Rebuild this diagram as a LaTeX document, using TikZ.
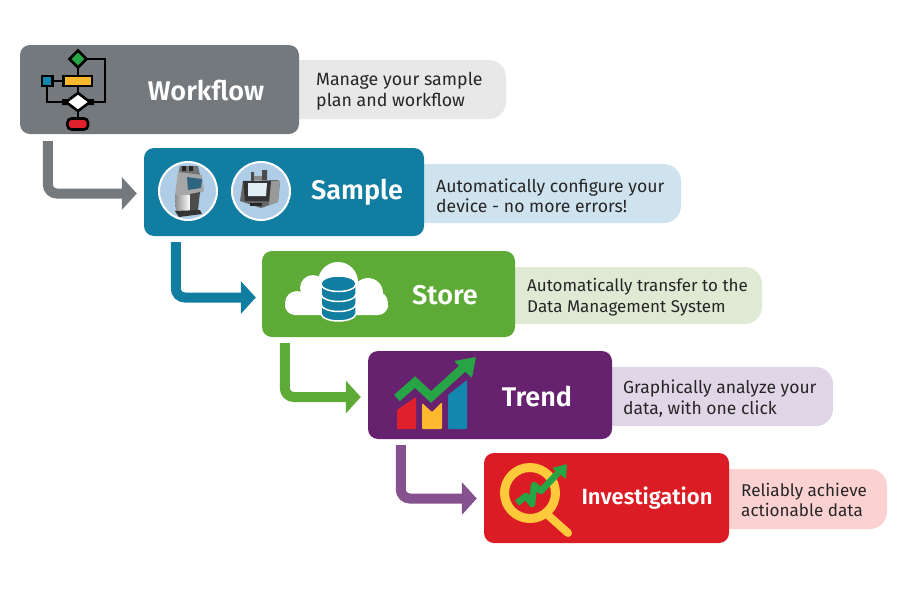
\documentclass[tikz,border=0pt]{standalone}
\usepackage{fontspec}
\setmainfont[BoldFont={Fira Sans SemiBold}]{Fira Sans}
\definecolor{Slate}{HTML}{73797D}
\definecolor{Ocean}{HTML}{117DA0}
\definecolor{Leaf}{HTML}{5EAA36}
\definecolor{Plum}{HTML}{67226F}
\definecolor{Crimson}{HTML}{DC1C24}
\definecolor{PlumArrow}{HTML}{85528F}
\definecolor{SlateLight}{HTML}{E8E8E8}
\definecolor{OceanLight}{HTML}{CFE3EF}
\definecolor{LeafLight}{HTML}{DEEAD3}
\definecolor{PlumLight}{HTML}{E1D6E7}
\definecolor{CrimsonLight}{HTML}{FBD2D1}
\definecolor{IconGreen}{HTML}{27A546}
\definecolor{IconAmber}{HTML}{FDB92D}
\definecolor{IconGold}{HTML}{FFC93C}
\definecolor{IconRed}{HTML}{E0202A}
\definecolor{IconBlue}{HTML}{1487AE}
\definecolor{DiscBlue}{HTML}{AFCDE6}
\definecolor{ScreenDark}{HTML}{2F6580}
\usetikzlibrary{arrows.meta, positioning}
\tikzset{
  box/.style n args={3}{
    rectangle, rounded corners=10pt, fill=#1,
    minimum width=#2, minimum height=#3, inner sep=0pt
  },
  bubble/.style n args={3}{
    rectangle, rounded corners=17pt, fill=#1,
    minimum width=#2, minimum height=#3, inner sep=0pt
  },
  title/.style={font=\fontsize{#1}{30}\selectfont\bfseries, text=white, inner sep=0pt},
  title/.default=27,
  note/.style={font=\fontsize{#1}{20.5}\selectfont, text=black!85, align=left, anchor=west, inner sep=0pt},
  flow/.style={-{Triangle[length=15pt,width=32pt]}, line width=10pt, rounded corners=9pt, color=#1},
  wire/.style={line width=2.6pt, draw=black},
}

\begin{document}
\begin{tikzpicture}[x=1pt,y=-1pt]

\useasboundingbox (0,0) rectangle (900,600);

% bubbles first, they slide under the boxes
\node[bubble={SlateLight}{226pt}{59pt}] at (393,89.5) (wfB) {};
\node[bubble={OceanLight}{277pt}{59pt}] at (542.5,193.5) (smB) {};
\node[bubble={LeafLight}{267pt}{57pt}] at (628.5,295.5) (stB) {};
\node[bubble={PlumLight}{242pt}{59pt}] at (712,396.5) (trB) {};
\node[bubble={CrimsonLight}{178pt}{60pt}] at (798,499) (inB) {};

\node[box={Slate}{279pt}{89pt}] at (159.5,89.5) (wf) {};
\node[box={Ocean}{280pt}{88pt}] at (284,192) (sm) {};
\node[box={Leaf}{253pt}{86pt}] at (388.5,294) (st) {};
\node[box={Plum}{244pt}{88pt}] at (490,395) (tr) {};
\node[box={Crimson}{245pt}{90pt}] at (606.5,498) (in1) {};

\node[title] at (206,90.5) (wfT) {Workflow};
\node[title] at (357,192.5) (smT) {Sample};
\node[title] at (445,295.5) (stT) {Store};
\node[title] at (537,396) (trT) {Trend};
\node[title=22] at (647,498.5) (inT) {Investigation};

\node[note=17.8] at (316,91) (wfN) {Manage your sample\\plan and workflow};
\node[note=17.6] at (436,195.5) (smN) {Automatically configure your\\device - no more errors!};
\node[note=17] at (527,297) (stN) {Automatically transfer to the\\Data Management System};
\node[note=17.5] at (623,398.5) (trN) {Graphically analyze your\\data, with one click};
\node[note=17.1] at (741,500) (inN) {Reliably achieve\\actionable data};

% elbow arrows
\draw[flow=Slate, shorten <=7pt, shorten >=7pt] ([xshift=28pt]wf.south west) |- ([yshift=-1.5pt]sm.west);
\draw[flow=Ocean, shorten <=6pt, shorten >=6pt] ([xshift=32pt]sm.south west) |- ([yshift=-3.5pt]st.west);
\draw[flow=Leaf, shorten <=6pt, shorten >=7pt] ([xshift=23pt]st.south west) |- ([yshift=-2pt]tr.west);
\draw[flow=PlumArrow, shorten <=6pt, shorten >=7pt] ([xshift=33pt]tr.south west) |- ([yshift=-.5pt]in1.west);

% workflow icon
\draw[wire] (78,59) -- (105,59) -- (105,102) -- (78,102);
\draw[wire] (78,59) -- (78,120);
\draw[wire] (47,81) -- (78,81);
\draw[wire] (47,81) -- (47,102) -- (78,102);
\draw[wire, fill=IconGreen] (78,50.5) -- (86.5,59) -- (78,67.5) -- (69.5,59) -- cycle;
\draw[wire, fill=IconAmber] (63.5,76) rectangle (92,86);
\draw[wire, fill=IconBlue] (42,76) rectangle (52.5,86);
\draw[wire, fill=white] (78,93) -- (90,102) -- (78,111) -- (66,102) -- cycle;
\fill[black] (62,99) rectangle (67,105) (89,99) rectangle (94,105);
\draw[wire, fill=IconRed, rounded corners=4pt] (67.5,118.5) rectangle (88,129.5);

% sample icons
\foreach \cx in {188,261}
  \draw[line width=2pt, draw=white, fill=DiscBlue] (\cx,191) circle (29);
\fill[black!55] (180,166) -- (198,166) -- (200,175) -- (178,175) -- cycle;
\fill[black!85] (182,166) rectangle (186,171) (189,166) rectangle (193,171);
\fill[black!35] (178,172) -- (202,175) -- (204,191) -- (195,195) -- (175,195) -- cycle;
\shade[left color=black!45, right color=white] (175,195) -- (190,195) -- (190,211) -- (176,212) -- cycle;
\fill[black!70] (190,194) -- (200,192) -- (198,210) -- (190,213) -- cycle;
\fill[ScreenDark] (187,177) -- (202,179) -- (201,188) -- (188,190) -- cycle;
\fill[black!80] (175,211) -- (200,210) -- (202,214) -- (179,217) -- cycle;
\fill[black!60] (243,181) -- (278,180) -- (280,182) -- (278,202) -- (261,208) -- (240,201) -- cycle;
\fill[black!40] (271,181) -- (280,181) -- (278,202) -- (269,205) -- cycle;
\fill[black!80] (243,181) -- (271,181) -- (269,201) -- (245,201) -- cycle;
\fill[OceanLight!60!white] (248,183) -- (267,183) -- (266,196) -- (248,196) -- cycle;
\fill[black!70] (251,172) rectangle (254,181) (262,170) rectangle (267,180);
\fill[black!45] (254,176) rectangle (262,180);
\fill[black!85] (250,203) rectangle (262,206);

% cloud and database
\fill[white] (338,282) circle (20);
\fill[white] (313,288) circle (13);
\fill[white] (297,303) circle (12);
\fill[white] (368,293) circle (15);
\fill[white] (376,303) circle (12);
\fill[white, rounded corners=10pt] (285,298) rectangle (388,315);
\draw[white, line width=1.5pt, fill=Ocean] (321,283.5) -- (321,313.5) arc[start angle=180, end angle=360, x radius=17.5, y radius=-7.5] -- (356,283.5) arc[start angle=0, end angle=180, x radius=17.5, y radius=-7.5] -- cycle;
\foreach \ty in {284,294,304}
  \draw[white, line width=1.5pt] (321,\ty) arc[start angle=180, end angle=360, x radius=17.5, y radius=-7.5];

% trend icon
\fill[IconRed, rounded corners=1pt] (397,410) -- (416,397) -- (416,429) -- (397,429) -- cycle;
\fill[IconAmber, rounded corners=1pt] (422,403) -- (432,412) -- (442,402) -- (442,429) -- (422,429) -- cycle;
\fill[IconBlue, rounded corners=1pt] (448,395) -- (467,380) -- (467,429) -- (448,429) -- cycle;
\draw[IconGreen, line width=8.5pt] (397,398) -- (415,382) -- (431,397) -- (464,367);
\fill[IconGreen, rounded corners=1pt] (454,361) -- (476,357) -- (472,378) -- cycle;

% investigation icon
\draw[line cap=round, line width=8pt, draw=IconGold] (549,516) -- (568,533);
\draw[line width=9pt, draw=IconGold] (530,493) circle (25.5);
\draw[IconGreen, line width=6.5pt, line join=round] (517,503) -- (526,496) -- (532,504) -- (534,485) -- (541,491) -- (558,473);
\fill[IconGreen, rounded corners=1pt] (552,468) -- (567,464) -- (566,479) -- cycle;

\end{tikzpicture}
\end{document}
